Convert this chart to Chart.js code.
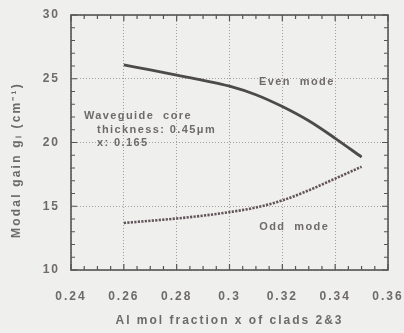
<!DOCTYPE html>
<html>
<head>
<meta charset="utf-8">
<script src="https://cdn.jsdelivr.net/npm/chart.js@4/dist/chart.umd.min.js"></script>
<style>
  html, body { margin: 0; padding: 0; background: #efefed; }
  #wrap { width: 404px; height: 333px; }
</style>
</head>
<body>
<div id="wrap"><canvas id="gainChart" width="404" height="333"></canvas></div>
<script>
// Al mol fraction of clads 2&3
const alFraction = [0.26, 0.27, 0.28, 0.29, 0.30, 0.31, 0.32, 0.33, 0.34, 0.35];
// modal gain (cm^-1)
const evenMode = [26.08, 25.7, 25.29, 24.88, 24.42, 23.75, 22.82, 21.7, 20.33, 18.86];
const oddMode = [13.69, 13.86, 14.04, 14.26, 14.54, 14.9, 15.46, 16.25, 17.17, 18.1];
const xTicks = [0.24, 0.26, 0.28, 0.30, 0.32, 0.34, 0.36];
const yTicks = [10, 15, 20, 25, 30];

const TEXT = "#6e6a6c";
const FONT = "'Liberation Sans', Arial, sans-serif";
const Y_TITLE = "Modal gain g\u2097 (cm\u207b\u00b9)";

// text placed in data space
const notes = [
  { text: "Waveguide  core", x: 0.2449, y: 22.1, align: "left" },
  { text: "thickness: 0.45\u03bcm", x: 0.2498, y: 21.0, align: "left" },
  { text: "x: 0.165", x: 0.2498, y: 19.95, align: "left" },
  { text: "Even  mode", x: 0.3255, y: 24.75, align: "center" },
  { text: "Odd  mode", x: 0.3245, y: 13.37, align: "center" },
];

const framePlugin = {
  id: "frame",
  beforeLayout(chart) { chart.ctx.letterSpacing = "2px"; },
  beforeDraw(chart) { chart.ctx.letterSpacing = "2px"; },
  afterDatasetsDraw(chart) {
    const { ctx, chartArea: a, scales } = chart;
    const xs = scales.x, ys = scales.y;
    ctx.save();
    ctx.strokeStyle = "#555";
    ctx.lineWidth = 1.6;
    ctx.strokeRect(a.left, a.top, a.right - a.left, a.bottom - a.top);
    // inward ticks on all four sides
    ctx.lineWidth = 1.2;
    ctx.beginPath();
    for (let i = 0; i <= 24; i++) {
      const v = xs.min + i * 0.005;
      const px = xs.getPixelForValue(v);
      const len = i % 4 === 0 ? 6 : 4;
      ctx.moveTo(px, a.bottom); ctx.lineTo(px, a.bottom - len);
      ctx.moveTo(px, a.top); ctx.lineTo(px, a.top + len);
    }
    for (let v = ys.min; v <= ys.max; v += 1) {
      const py = ys.getPixelForValue(v);
      const len = v % 5 === 0 ? 6 : 4;
      ctx.moveTo(a.left, py); ctx.lineTo(a.left + len, py);
      ctx.moveTo(a.right, py); ctx.lineTo(a.right - len, py);
    }
    ctx.stroke();
    // notes
    ctx.fillStyle = TEXT;
    ctx.font = "bold 11px " + FONT;
    ctx.letterSpacing = "1.4px";
    ctx.textBaseline = "middle";
    notes.forEach(n => {
      ctx.textAlign = n.align;
      ctx.fillText(n.text, xs.getPixelForValue(n.x), ys.getPixelForValue(n.y));
    });
    // y axis title
    ctx.font = "bold 12px " + FONT;
    ctx.letterSpacing = "2.2px";
    ctx.textAlign = "center";
    ctx.translate(17, 160);
    ctx.rotate(-Math.PI / 2);
    ctx.fillText(Y_TITLE, 0, 0);
    ctx.restore();
  }
};

new Chart(document.getElementById("gainChart"), {
  type: "line",
  data: {
    datasets: [
      {
        label: "Even mode",
        data: alFraction.map((x, i) => ({ x, y: evenMode[i] })),
        borderColor: "#4d4a4c",
        borderWidth: 2.8,
        pointRadius: 0,
        cubicInterpolationMode: "monotone",
      },
      {
        label: "Odd mode",
        data: alFraction.map((x, i) => ({ x, y: oddMode[i] })),
        borderColor: "#62545b",
        borderWidth: 2.6,
        borderDash: [2.2, 1.3],
        pointRadius: 0,
        cubicInterpolationMode: "monotone",
      },
    ],
  },
  options: {
    responsive: false,
    animation: false,
    layout: { padding: { top: 15, right: 16, left: 0, bottom: 0 } },
    plugins: { legend: { display: false }, tooltip: { enabled: false } },
    scales: {
      x: {
        type: "linear",
        min: 0.24,
        max: 0.36,
        afterBuildTicks: (s) => { s.ticks = xTicks.map(v => ({ value: v })); },
        afterFit: (s) => { s.height = 63; s.paddingLeft = 0; s.paddingRight = 0; },
        ticks: {
          color: TEXT,
          font: { family: FONT, size: 12, weight: "bold" },
          padding: 19,
          maxRotation: 0,
          callback: (v) => String(parseFloat(v.toFixed(2))),
        },
        grid: { color: "#a39ca2", lineWidth: 1, drawTicks: false },
        border: { display: false, dash: [1, 2] },
        title: {
          display: true,
          text: "Al mol fraction x of clads 2&3",
          color: TEXT,
          font: { family: FONT, size: 12, weight: "bold" },
          padding: { top: 0, bottom: 5 },
        },
      },
      y: {
        min: 10,
        max: 30,
        afterBuildTicks: (s) => { s.ticks = yTicks.map(v => ({ value: v })); },
        afterFit: (s) => { s.width = 71; s.paddingTop = 0; s.paddingBottom = 0; },
        ticks: {
          color: TEXT,
          font: { family: FONT, size: 12, weight: "bold" },
          padding: 11,
          callback: (v) => String(v),
        },
        grid: { color: "#a39ca2", lineWidth: 1, drawTicks: false },
        border: { display: false, dash: [1, 2] },
      },
    },
  },
  plugins: [framePlugin],
});
</script>
</body>
</html>
